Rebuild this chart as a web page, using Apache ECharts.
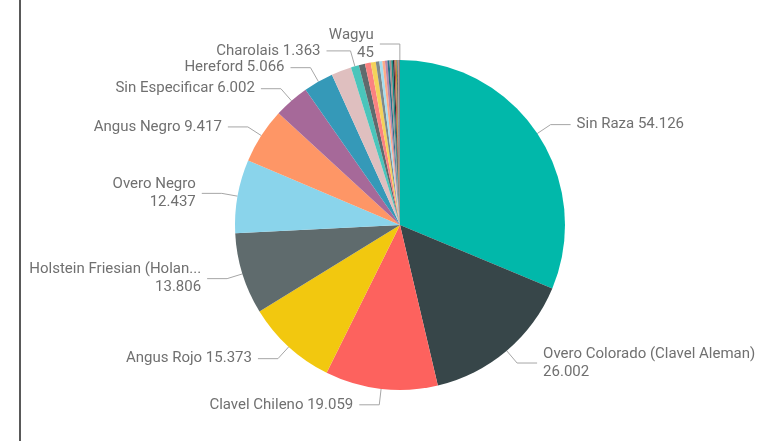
<!DOCTYPE html>
<html>
<head>
<meta charset="utf-8">
<script src="https://cdn.jsdelivr.net/npm/echarts@6/dist/echarts.min.js"></script>
<style>
  html, body { margin: 0; padding: 0; background: #fff; }
  #chart { width: 763px; height: 441px; }
</style>
</head>
<body>
<div id="chart"></div>
<script>
// razas, ordenadas de mayor a menor (las pequeñas sin etiqueta visible)
const categories = [
  'Sin Raza', 'Overo Colorado (Clavel Aleman)', 'Clavel Chileno', 'Angus Rojo',
  'Holstein Friesian (Holando)', 'Overo Negro', 'Angus Negro', 'Sin Especificar',
  'Hereford', 'Otra 1', 'Charolais',
  'Otra 2', 'Otra 3', 'Otra 4', 'Otra 5', 'Otra 6', 'Otra 7', 'Otra 8', 'Otra 9',
  'Otra 10', 'Otra 11', 'Otra 12', 'Otra 13', 'Otra 14', 'Otra 15', 'Otra 16',
  'Otra 17', 'Otra 18', 'Otra 19', 'Wagyu'
]
const values = [
  54126, 26002, 19059, 15373,
  13806, 12437, 9417, 6002,
  5066, 3400, 1363,
  1050, 980, 850, 600, 500, 450, 400, 350,
  300, 280, 250, 200, 180, 150, 120,
  100, 80, 60, 45
]
// etiquetas que se muestran (texto tal como aparece)
const labelText = {
  'Sin Raza': 'Sin Raza {v}',
  'Overo Colorado (Clavel Aleman)': 'Overo Colorado (Clavel Aleman)\n{v}',
  'Clavel Chileno': 'Clavel Chileno {v}',
  'Angus Rojo': 'Angus Rojo {v}',
  'Holstein Friesian (Holando)': 'Holstein Friesian (Holan...\n{v}',
  'Overo Negro': 'Overo Negro\n{v}',
  'Angus Negro': 'Angus Negro {v}',
  'Sin Especificar': 'Sin Especificar {v}',
  'Hereford': 'Hereford {v}',
  'Charolais': 'Charolais {v}',
  'Wagyu': 'Wagyu\n{v}'
}
const palette = [
  '#01B8AA', '#374649', '#FD625E', '#F2C80F', '#5F6B6D', '#8AD4EB', '#FE9666',
  '#A66999', '#3599B8', '#DFBFBF', '#4AC5BB', '#5F6B6D', '#FB8281', '#F4D25A',
  '#7F898A', '#A4DDEE', '#FDAB89', '#B687AC', '#28738A', '#A78F8F', '#168980',
  '#293537', '#BB4A4A', '#B59525', '#475052', '#6A9FB0', '#BD7150', '#7B4F71',
  '#1B4D5C', '#293537'
]

function fmt(n) {
  return String(n).replace(/\B(?=(\d{3})+(?!\d))/g, '.')
}

const chart = echarts.init(document.getElementById('chart'))

const seriesData = categories.map((name, i) => ({
  name,
  value: values[i],
  label: { show: !!labelText[name] },
  labelLine: name === 'Charolais'
    ? { show: true, length2: 24 }
    : { show: !!labelText[name] }
}))

chart.setOption({
  animation: false,
  color: palette,
  graphic: [
    {
      type: 'line',
      shape: { x1: 20, y1: 0, x2: 20, y2: 441 },
      style: { stroke: '#222', lineWidth: 1.5 }
    }
  ],
  series: [
    {
      type: 'pie',
      center: [400, 225],
      radius: 165,
      startAngle: 90,
      clockwise: true,
      avoidLabelOverlap: false,
      data: seriesData,
      label: {
        position: 'outside',
        color: '#707070',
        fontFamily: 'Roboto, sans-serif',
        fontSize: 15,
        lineHeight: 18,
        overflow: 'none',
        distanceToLabelLine: 6,
        formatter: p => (labelText[p.name] || '').replace('{v}', fmt(p.value))
      },
      labelLine: {
        length: 16,
        length2: 20,
        lineStyle: { color: '#a6a6a6', width: 1 }
      },
      labelLayout: { hideOverlap: false },
      emphasis: { disabled: true }
    }
  ]
})
</script>
</body>
</html>
